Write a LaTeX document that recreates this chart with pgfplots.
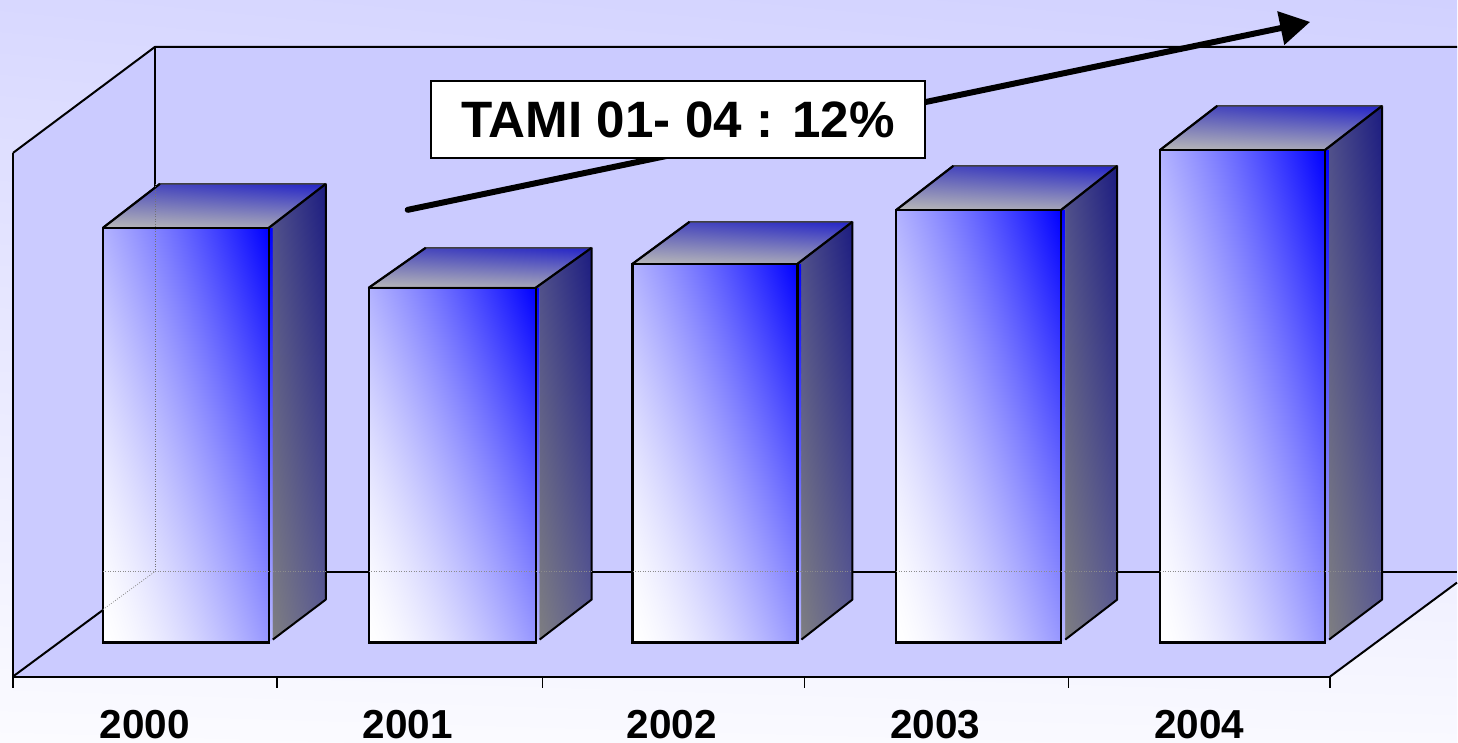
\documentclass[border=0pt]{standalone}
\usepackage{fontspec}
\setmainfont{Liberation Sans}
\usepackage{pgfplots}
\pgfplotsset{compat=1.18}
\usetikzlibrary{shadings,arrows.meta,patterns}
\definecolor{wall}{HTML}{CBCBFF}
\definecolor{fLR}{HTML}{8C8CFF}
\definecolor{fUR}{HTML}{0000FF}
\definecolor{tLL}{HTML}{B8B8B8}
\definecolor{tLR}{HTML}{A0A0B8}
\definecolor{tUL}{HTML}{5050B8}
\definecolor{tUR}{HTML}{2424C8}
\definecolor{sLL}{HTML}{808080}
\definecolor{sLR}{HTML}{5C5C94}
\definecolor{sUL}{HTML}{50508C}
\definecolor{sUR}{HTML}{1C1C80}
\definecolor{bgUL}{HTML}{D8D8FF}
\definecolor{bgUR}{HTML}{D1D1FF}
\definecolor{bgLL}{HTML}{FBFBFF}
\definecolor{bgLR}{HTML}{F9F9FF}
\definecolor{streak}{HTML}{A8A8D8}
% front face: white at lower left to pure blue at upper right
\pgfdeclarefunctionalshading{frontface}{\pgfpointorigin}{\pgfpoint{100bp}{100bp}}{}{%
  25 sub 0.009 mul exch 25 sub 0.011 mul add
  dup 0 lt {pop 0} if dup 1 gt {pop 1} if
  1.5 exp 1 exch sub dup 1
}
\pgfdeclarepatternformonly{sidestreaks}{\pgfpointorigin}{\pgfpoint{8pt}{11pt}}{\pgfpoint{8pt}{11pt}}{%
  \pgfsetlinewidth{0.45pt}
  \pgfpathmoveto{\pgfpoint{2pt}{1pt}}\pgfpathlineto{\pgfpoint{2pt}{6pt}}
  \pgfpathmoveto{\pgfpoint{6pt}{6.5pt}}\pgfpathlineto{\pgfpoint{6pt}{10.5pt}}
  \pgfusepath{stroke}}
\pgfdeclarepatternformonly{topstreaks}{\pgfpointorigin}{\pgfpoint{16pt}{7pt}}{\pgfpoint{16pt}{7pt}}{%
  \pgfsetlinewidth{0.4pt}
  \pgfpathmoveto{\pgfpoint{0pt}{1pt}}\pgfpathlineto{\pgfpoint{11pt}{1pt}}
  \pgfpathmoveto{\pgfpoint{6pt}{4.5pt}}\pgfpathlineto{\pgfpoint{15pt}{4.5pt}}
  \pgfusepath{stroke}}
% x0, x1, x1 of strip, x of back edge, value at front, value at back, x of back-left corner
\newcommand{\barbox}[7]{%
  \addplot[draw=none,shade,shading=bilinear interpolation,lower left=fLR!60!white,lower right=fLR!60!white,upper left=fUR,upper right=fUR]
    coordinates {(#2,#5) (#3,#5) (#3,3) (#2,0)} -- cycle;
  \addplot[draw=none,shade,shading=bilinear interpolation,lower left=sLL,lower right=sLR,upper left=sUL,upper right=sUR,
    postaction={pattern=sidestreaks,pattern color=streak}]
    coordinates {(#2,#5) (#4,#6) (#4,43) (#3,3) (#3,#5)} -- cycle;
  \addplot[draw=black,line width=2pt,line join=round]
    coordinates {(#4,#6) (#4,43) (#3,3)};
  \addplot[draw=black!75,line width=1.6pt,shade,shading=bilinear interpolation,lower left=tLL,lower right=tLR,upper left=tUL,upper right=tUR,line join=round,
    postaction={pattern=topstreaks,pattern color=streak}]
    coordinates {(#1,#5) (#2,#5) (#4,#6) (#7,#6)} -- cycle;
  \addplot[draw=black,line width=2.2pt,shade,shading=frontface,line join=miter]
    coordinates {(#1,0) (#2,0) (#2,#5) (#1,#5)} -- cycle;
  \addplot[draw=black,line width=2.2pt,line join=round]
    coordinates {(#1,#5) (#7,#6)};
  \addplot[draw=black,line width=2.2pt,line join=round]
    coordinates {(#4,#6) (#2,#5)};
  \addplot[draw=black!45,line width=0.7pt,dash pattern=on 1pt off 1.5pt] coordinates {(#1,71) (#4,71)};
}
\begin{document}
\begin{tikzpicture}
\begin{axis}[
  scale only axis,
  width=1318pt,
  height=524pt,
  xmin=13, xmax=1331,
  ymin=-34, ymax=490,
  clip=false,
  axis on top,
  axis x line=bottom,
  axis y line=left,
  axis line style={-,line width=2pt,black},
  ymajorticks=false,
  xtick={145,408,672,936,1200},
  xticklabels={2000,2001,2002,2003,2004},
  major tick length=0pt,
  extra x ticks={13,277,543,805,1069,1331},
  extra x tick labels={},
  extra x tick style={tick align=outside,major tick length=11pt,tick style={line width=1.4pt,black}},
  xticklabel style={font=\fontsize{40.5}{41}\selectfont\bfseries,yshift=-30pt,/pgf/number format/assume math mode=true},
]
% page background
\addplot[draw=none,shade,shading=bilinear interpolation,lower left=bgLL,lower right=bgLR,upper left=bgUL,upper right=bgUR]
  coordinates {(0,-100) (1458,-100) (1458,643) (0,643)} -- cycle;
% walls and floor
\addplot[draw=none,fill=wall] coordinates {(13,490) (155,596) (1458,596) (1458,60) (1331,-34) (13,-34)} -- cycle;
% wall edges
\addplot[draw=black,line width=2pt] coordinates {(13,490) (155,596) (1458,596)};
\addplot[draw=black,line width=2pt] coordinates {(155,596) (155,71) (1458,71)};
\addplot[draw=black,line width=2pt] coordinates {(13,-34) (155,71)};
\addplot[draw=black,line width=2pt] coordinates {(1331,-34) (1458,60)};
% bars
\barbox{103}{269}{273}{326}{415}{459}{160}
\barbox{369}{536}{540}{592}{355}{395}{426}
\barbox{633}{798}{802}{853}{379}{421}{690}
\barbox{897}{1062}{1066}{1118}{433}{477}{954}
\barbox{1161}{1326}{1330}{1383}{493}{537}{1218}
% gridlines seen through the first bar
\addplot[draw=black!55,line width=0.7pt,dash pattern=on 1pt off 1.5pt] coordinates {(155,459) (155,71)};
\addplot[draw=black!45,line width=0.7pt,dash pattern=on 1pt off 1.5pt] coordinates {(103,33) (155,71)};
% trend arrow and label
\addplot[draw=black,line width=6pt,line cap=round,-{Triangle[length=30pt,width=33pt]}] coordinates {(408,433) (1311,621)};
\node[draw=black,line width=1.8pt,fill=white,minimum width=495pt,minimum height=77pt,inner sep=0pt,
  font=\fontsize{51.2}{53}\selectfont\bfseries] at (axis cs:678.5,523.5) {TAMI 01- 04 : 12\%};
\end{axis}
\end{tikzpicture}
\end{document}
